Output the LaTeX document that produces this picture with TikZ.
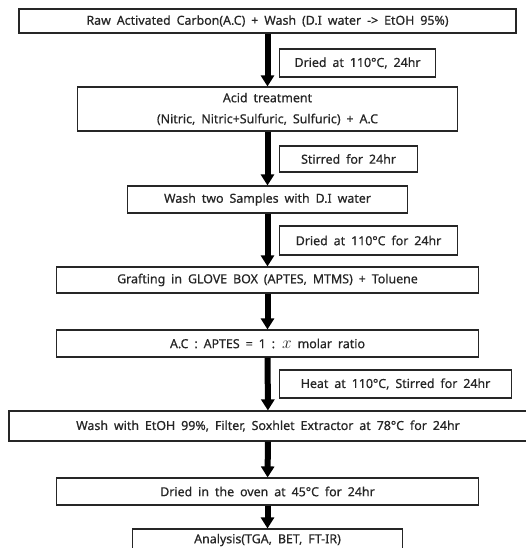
\documentclass[tikz,border=0pt]{standalone}
\usepackage{fontspec}
\setmainfont{Noto Sans}[FakeBold=0.6]
\usetikzlibrary{arrows.meta}
\newcommand{\widesp}{\spaceskip=0.48em\relax}
\begin{document}
\begin{tikzpicture}[x=1pt,y=-1pt,
  box/.style={draw=black!85,line width=1.1pt,inner sep=0pt,align=center,text=black!85,
    font=\fontsize{12.4}{21}\selectfont,execute at begin node=\widesp},
  lab/.style={box,anchor=west},
  flow/.style={line width=6pt,-{Triangle[width=13pt,length=11pt]}}]
\useasboundingbox (0,0) rectangle (526,548);
\node[box,minimum width=497pt,minimum height=24pt] (b1) at (267.5,21) {Raw Activated Carbon(A.C) + Wash (D.I water -> EtOH 95\%)};
\node[lab,minimum width=156pt,minimum height=28pt] (l1) at (279,63) {Dried at 110°C, 24hr};
\node[box,minimum width=380pt,minimum height=44pt] (b2) at (267.5,109) {Acid treatment\\(Nitric, Nitric+Sulfuric, Sulfuric) + A.C};
\node[lab,minimum width=138pt,minimum height=26pt] (l2) at (279,159) {Stirred for 24hr};
\node[box,minimum width=280pt,minimum height=27pt] (b3) at (267.5,199.5) {Wash two Samples with D.I water};
\node[lab,minimum width=178pt,minimum height=29pt] (l3) at (279,240.5) {Dried at 110°C for 24hr};
\node[box,minimum width=422pt,minimum height=26pt] (b4) at (267.5,280) {Grafting in GLOVE BOX (APTES, MTMS) + Toluene};
\node[box,minimum width=422pt,minimum height=27pt] (b5) at (267.5,343.5) {A.C : APTES = 1 : {\fontsize{19}{19}\selectfont$x$} molar ratio};
\node[lab,minimum width=232pt,minimum height=28pt] (l5) at (279,384) {Heat at 110°C, Stirred for 24hr};
\node[box,minimum width=518pt,minimum height=30pt] (b6) at (268,426) {Wash with EtOH 99\%, Filter, Soxhlet Extractor at 78°C for 24hr};
\node[box,minimum width=422pt,minimum height=27pt] (b7) at (267.5,491.5) {Dried in the oven at 45°C for 24hr};
\node[box,minimum width=270pt,minimum height=22pt] (b8) at (267.5,540) {Analysis(TGA, BET, FT-IR)};
\draw[flow] (b1) -- (b2);
\draw[flow] (b2) -- (b3);
\draw[flow] (b3) -- (b4);
\draw[flow] (b4) -- (b5);
\draw[flow] (b5) -- (b6);
\draw[flow] (b6) -- (b7);
\draw[flow] (b7) -- (b8);
\end{tikzpicture}
\end{document}
